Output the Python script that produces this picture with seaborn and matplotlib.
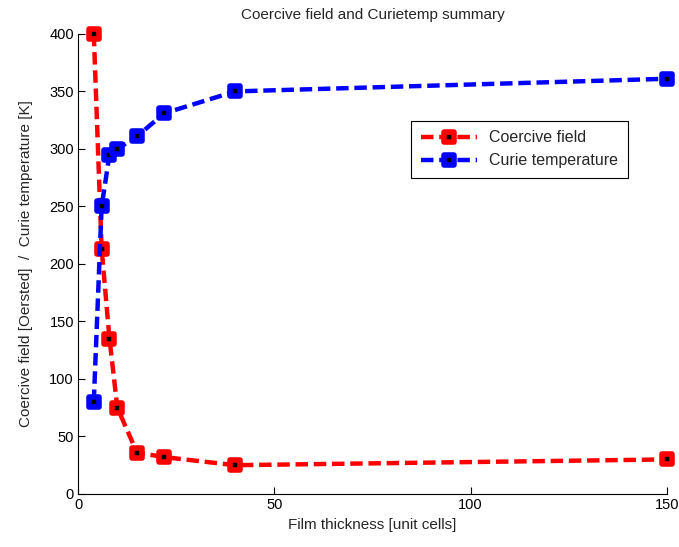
import matplotlib
matplotlib.use("Agg")
import matplotlib.pyplot as plt
from matplotlib.markers import MarkerStyle
import seaborn as sns
import pandas as pd

thickness = [4, 6, 8, 10, 15, 22, 40, 150]
coercive_field = [400, 213, 135, 75, 36, 32, 25, 30]
curie_temp = [80, 250, 295, 300, 311, 331, 350, 361]
series_names = ["Coercive field", "Curie temperature"]
series_colors = ["#ff0000", "#0000ff"]
x_ticks = [0, 50, 100, 150]
y_ticks = [0, 50, 100, 150, 200, 250, 300, 350, 400]

sns.set_style("white")
plt.rcParams["font.family"] = ["Liberation Sans", "DejaVu Sans"]

fig = plt.figure(figsize=(6.79, 5.47), dpi=100)
ax = fig.add_axes([0.115, 0.097, 0.867, 0.841])

mk = MarkerStyle("s", joinstyle="round")
for vals, name, col in zip([coercive_field, curie_temp], series_names, series_colors):
    df = pd.DataFrame({"x": thickness, "y": vals})
    sns.lineplot(data=df, x="x", y="y", ax=ax, color=col, label=name,
                 linestyle="--", linewidth=3.2, marker=mk, markersize=7.5,
                 markerfacecolor="black", markeredgecolor=col, markeredgewidth=4,
                 sort=False, estimator=None, clip_on=False)

for ln in ax.lines:
    ln.set_dashes((2.8, 1.3))

ax.set_xlim(0, 150)
ax.set_ylim(0, 400)
ax.set_xticks(x_ticks)
ax.set_yticks(y_ticks)
ax.tick_params(direction="in", length=5, width=0.8, labelsize=10.5, colors="black",
               bottom=True, left=True, pad=3)
for s in ["top", "right"]:
    ax.spines[s].set_visible(False)
for s in ["left", "bottom"]:
    ax.spines[s].set_color("black")
    ax.spines[s].set_linewidth(0.8)

ax.set_xlabel("Film thickness [unit cells]", fontsize=11, labelpad=4)
ax.set_ylabel("Coercive field [Oersted]  /  Curie temperature [K]", fontsize=11, labelpad=12)
ax.set_title("Coercive field and Curietemp summary", fontsize=11, pad=11)

leg = ax.legend(loc="upper right", bbox_to_anchor=(0.934, 0.811), fontsize=11.5,
                frameon=True, fancybox=False, edgecolor="black", framealpha=1,
                handlelength=3.5, borderpad=0.6, labelspacing=0.5, borderaxespad=0)
leg.get_frame().set_linewidth(0.8)

fig.savefig("out.png", dpi=100)
